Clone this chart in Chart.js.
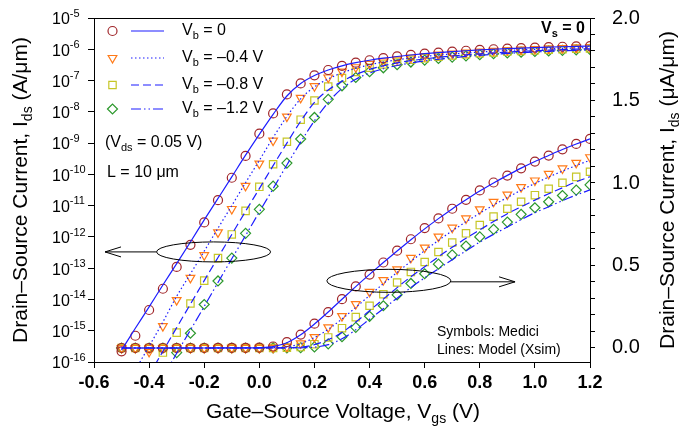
<!DOCTYPE html>
<html>
<head>
<meta charset="utf-8">
<script src="https://cdn.jsdelivr.net/npm/chart.js@4.4.0/dist/chart.umd.min.js"></script>
<style>
  html, body { margin: 0; padding: 0; background: #fff; }
</style>
</head>
<body>
<canvas id="chart" width="688" height="432"></canvas>
<script>
// Gate-source voltage grid (V)
const vgs = [-0.5, -0.45, -0.4, -0.35, -0.3, -0.25, -0.2, -0.15, -0.1, -0.05,
    0, 0.05, 0.1, 0.15, 0.2, 0.25, 0.3, 0.35, 0.4, 0.45, 0.5, 0.55, 0.6, 0.65,
    0.7, 0.75, 0.8, 0.85, 0.9, 0.95, 1.0, 1.05, 1.1, 1.15, 1.2];

// Medici symbols, Ids in A/um (0 = below the plotted range)
const medici0 = [2.2e-16, 6.9e-16, 4.6e-15, 2.2e-14, 1.1e-13, 5.6e-13, 2.9e-12, 1.5e-11, 7.8e-11, 3.9e-10,
    2.0e-9, 8.9e-9, 3.6e-8, 8.1e-8, 1.47e-7, 2.17e-7, 2.96e-7, 3.73e-7, 4.45e-7, 5.18e-7, 5.90e-7, 6.59e-7,
    7.27e-7, 7.85e-7, 8.44e-7, 8.98e-7, 9.55e-7, 1.003e-6, 1.045e-6, 1.089e-6, 1.130e-6, 1.166e-6, 1.204e-6, 1.237e-6, 1.267e-6];
const medici1 = [0, 0, 2.1e-16, 1.4e-15, 9.5e-15, 4.9e-14, 2.6e-13, 1.4e-12, 7.8e-12, 4.3e-11,
    2.2e-10, 1.2e-9, 7.0e-9, 2.8e-8, 6.6e-8, 1.25e-7, 1.93e-7, 2.66e-7, 3.40e-7, 4.11e-7, 4.77e-7, 5.46e-7,
    6.08e-7, 6.75e-7, 7.29e-7, 7.85e-7, 8.40e-7, 8.86e-7, 9.30e-7, 9.75e-7, 1.015e-6, 1.055e-6, 1.088e-6, 1.122e-6, 1.156e-6];
const medici2 = [0, 0, 0, 2.0e-16, 8.7e-16, 7.4e-15, 4.0e-14, 2.1e-13, 1.2e-12, 6.8e-12,
    4.0e-11, 2.1e-10, 1.1e-9, 5.6e-9, 2.3e-8, 6.4e-8, 1.20e-7, 1.87e-7, 2.56e-7, 3.26e-7, 3.97e-7, 4.61e-7,
    5.21e-7, 5.82e-7, 6.39e-7, 6.95e-7, 7.45e-7, 7.96e-7, 8.44e-7, 8.86e-7, 9.26e-7, 9.65e-7, 1.001e-6, 1.037e-6, 1.068e-6];
const medici3 = [0, 0, 0, 0, 2.0e-16, 8.3e-16, 6.9e-15, 3.9e-14, 2.1e-13, 1.3e-12,
    7.6e-12, 4.2e-11, 2.3e-10, 1.35e-9, 6.6e-9, 2.5e-8, 6.8e-8, 1.25e-7, 1.92e-7, 2.56e-7, 3.22e-7, 3.91e-7,
    4.50e-7, 5.08e-7, 5.64e-7, 6.18e-7, 6.73e-7, 7.19e-7, 7.63e-7, 8.10e-7, 8.50e-7, 8.86e-7, 9.24e-7, 9.57e-7, 9.89e-7];

// Xsim model lines, Ids in A/um
const model0 = [2.4e-16, 1.2e-15, 5.8e-15, 2.9e-14, 1.4e-13, 6.9e-13, 3.5e-12, 1.7e-11, 8.3e-11, 4.1e-10,
    1.9e-9, 8.3e-9, 3.2e-8, 8.0e-8, 1.45e-7, 2.18e-7, 2.95e-7, 3.72e-7, 4.46e-7, 5.18e-7, 5.88e-7, 6.56e-7,
    7.22e-7, 7.84e-7, 8.43e-7, 8.98e-7, 9.51e-7, 1.0e-6, 1.046e-6, 1.09e-6, 1.13e-6, 1.167e-6, 1.203e-6, 1.236e-6, 1.267e-6];
const model1 = [1.0e-17, 5.6e-17, 3.2e-16, 1.9e-15, 1.26e-14, 6.6e-14, 3.5e-13, 1.9e-12, 1.0e-11, 5.4e-11,
    2.8e-10, 1.5e-9, 7.1e-9, 2.6e-8, 6.3e-8, 1.13e-7, 1.76e-7, 2.46e-7, 3.18e-7, 3.90e-7, 4.58e-7, 5.25e-7,
    5.90e-7, 6.52e-7, 7.10e-7, 7.65e-7, 8.17e-7, 8.66e-7, 9.12e-7, 9.56e-7, 9.97e-7, 1.036e-6, 1.072e-6, 1.106e-6, 1.138e-6];
const model2 = [2e-18, 1e-17, 4.0e-17, 2.2e-16, 1.26e-15, 7.1e-15, 4.0e-14, 2.2e-13, 1.2e-12, 6.6e-12,
    3.5e-11, 1.9e-10, 1.0e-9, 5.0e-9, 2.0e-8, 5.0e-8, 9.4e-8, 1.57e-7, 2.26e-7, 2.96e-7, 3.66e-7, 4.32e-7,
    4.92e-7, 5.53e-7, 6.10e-7, 6.65e-7, 7.16e-7, 7.66e-7, 8.14e-7, 8.56e-7, 8.96e-7, 9.35e-7, 9.71e-7, 1.007e-6, 1.038e-6];
const model3 = [1e-19, 1e-18, 6e-18, 3.2e-17, 1.9e-16, 1.05e-15, 6.0e-15, 3.5e-14, 2.0e-13, 1.1e-12,
    6.3e-12, 3.5e-11, 2.0e-10, 1.07e-9, 5.2e-9, 2.0e-8, 5.6e-8, 1.10e-7, 1.74e-7, 2.38e-7, 3.02e-7, 3.66e-7,
    4.25e-7, 4.80e-7, 5.35e-7, 5.89e-7, 6.42e-7, 6.89e-7, 7.33e-7, 7.78e-7, 8.20e-7, 8.56e-7, 8.93e-7, 9.27e-7, 9.58e-7];

// axis ticks
const xTicks = [-0.6, -0.4, -0.2, 0.0, 0.2, 0.4, 0.6, 0.8, 1.0, 1.2];
const logExps = [-16, -15, -14, -13, -12, -11, -10, -9, -8, -7, -6, -5];
const linTicks = [0.0, 0.5, 1.0, 1.5, 2.0];

const legendLabels = ['0', '\u20130.4 V', '\u20130.8 V', '\u20131.2 V'];

const FONT = '"Liberation Sans", Arial, Helvetica, sans-serif';
const BLUE = '#1c1cff';
const symColors = ['#a0262a', '#ff7a18', '#c6c626', '#2c982c'];
const symShapes = ['circle', 'triangle', 'rect', 'rectRot'];
const symRot = [0, 180, 0, 0];
const symRadius = [4.5, 5, 5.2, 5];
const lineDash = [[], [1.5, 2.5], [8, 4], [10, 3, 1.5, 3, 1.5, 3]];

const medici = [medici0, medici1, medici2, medici3];
const model = [model0, model1, model2, model3];

const datasets = [];
model.forEach((m, i) => {
    const base = {
        type: 'line', borderColor: BLUE, borderWidth: 1.2, borderDash: lineDash[i],
        pointRadius: 0, cubicInterpolationMode: 'monotone', fill: false
    };
    datasets.push(Object.assign({}, base, { yAxisID: 'yLog', data: vgs.map((v, k) => ({ x: v, y: m[k] })) }));
    datasets.push(Object.assign({}, base, { yAxisID: 'yLin', data: vgs.map((v, k) => ({ x: v, y: m[k] * 1e6 })) }));
});
medici.forEach((s, i) => {
    const base = {
        type: 'line', showLine: false, pointStyle: symShapes[i], pointRotation: symRot[i],
        pointRadius: symRadius[i], pointBorderColor: symColors[i], pointBackgroundColor: 'rgba(0,0,0,0)',
        pointBorderWidth: 1.2
    };
    datasets.push(Object.assign({}, base, { yAxisID: 'yLog', data: vgs.map((v, k) => ({ x: v, y: s[k] > 0 ? s[k] : null })) }));
    datasets.push(Object.assign({}, base, { yAxisID: 'yLin', data: vgs.map((v, k) => ({ x: v, y: s[k] * 1e6 })) }));
});

function font(size, bold) { return (bold ? 'bold ' : '') + size + 'px ' + FONT; }

// draws text runs; part = [text, 'sub' | 'sup' | undefined]
function drawRich(ctx, parts, x, y, size, align, bold) {
    const runs = parts.map(p => {
        const kind = p[1] || '';
        const s = kind ? Math.round(size * 0.68) : size;
        ctx.font = font(s, bold);
        return { t: p[0], s: s, dy: kind === 'sub' ? size * 0.32 : kind === 'sup' ? -size * 0.4 : 0, w: ctx.measureText(p[0]).width };
    });
    const total = runs.reduce((a, r) => a + r.w, 0);
    let cx = align === 'center' ? x - total / 2 : align === 'right' ? x - total : x;
    ctx.textAlign = 'left';
    ctx.textBaseline = 'middle';
    runs.forEach(r => {
        ctx.font = font(r.s, bold);
        ctx.fillText(r.t, cx, y + r.dy);
        cx += r.w;
    });
}

function arrow(ctx, x0, x1, y) {
    const d = x1 > x0 ? -1 : 1;
    ctx.beginPath();
    ctx.moveTo(x0, y); ctx.lineTo(x1, y);
    ctx.moveTo(x1 + d * 16, y - 5); ctx.lineTo(x1, y); ctx.lineTo(x1 + d * 16, y + 5);
    ctx.stroke();
}

const decorations = {
    id: 'decorations',
    afterDraw(chart) {
        const ctx = chart.ctx;
        const a = chart.chartArea;
        const xs = chart.scales.x, yl = chart.scales.yLog, yr = chart.scales.yLin;
        ctx.save();
        ctx.fillStyle = '#000';
        ctx.strokeStyle = '#000';
        ctx.lineWidth = 1;
        ctx.strokeRect(a.left + 0.5, a.top + 0.5, a.right - a.left, a.bottom - a.top);

        // tick labels
        xTicks.forEach(v => drawRich(ctx, [[v.toFixed(1)]], xs.getPixelForValue(v), 383, 18, 'center', true));
        logExps.forEach(e => drawRich(ctx, [['10'], [String(e), 'sup']], 52, yl.getPixelForValue(Math.pow(10, e)) + 2, 16, 'left'));
        linTicks.forEach(v => drawRich(ctx, [[v.toFixed(1)]], 612, yr.getPixelForValue(v), 20, 'left'));

        // axis titles
        drawRich(ctx, [['Gate\u2013Source Voltage, V'], ['gs', 'sub'], [' (V)']], 343, 412, 21, 'center');
        ctx.save();
        ctx.translate(21, (a.top + a.bottom) / 2);
        ctx.rotate(-Math.PI / 2);
        drawRich(ctx, [['Drain\u2013Source Current, I'], ['ds', 'sub'], [' (A/\u03bcm)']], 0, 0, 21, 'center');
        ctx.restore();
        ctx.save();
        ctx.translate(668, (a.top + a.bottom) / 2);
        ctx.rotate(-Math.PI / 2);
        drawRich(ctx, [['Drain\u2013Source Current, I'], ['ds', 'sub'], [' (\u03bcA/\u03bcm)']], 0, 0, 21, 'center');
        ctx.restore();

        // legend
        const rows = [31, 58, 85, 109];
        rows.forEach((y, i) => {
            ctx.save();
            ctx.strokeStyle = BLUE;
            ctx.lineWidth = 1.2;
            ctx.setLineDash(lineDash[i]);
            ctx.beginPath(); ctx.moveTo(131, y); ctx.lineTo(164, y); ctx.stroke();
            ctx.restore();
            ctx.save();
            ctx.strokeStyle = symColors[i];
            ctx.fillStyle = 'rgba(0,0,0,0)';
            ctx.lineWidth = 1.2;
            Chart.helpers.drawPoint(ctx, { pointStyle: symShapes[i], rotation: symRot[i], radius: symRadius[i], borderWidth: 1.2 }, 112.5, y);
            ctx.restore();
            drawRich(ctx, [['V'], ['b', 'sub'], [' = ' + legendLabels[i]]], 182, y, 16, 'left');
        });

        drawRich(ctx, [['(V'], ['ds', 'sub'], [' = 0.05 V)']], 105, 143, 16, 'left');
        drawRich(ctx, [['L = 10 \u03bcm']], 107, 173, 16, 'left');
        drawRich(ctx, [['V'], ['s', 'sub'], [' = 0']], 585, 29, 16, 'right', true);
        drawRich(ctx, [['Symbols: Medici']], 437, 332, 14, 'left');
        drawRich(ctx, [['Lines: Model (Xsim)']], 437, 350, 14, 'left');

        // ellipses marking which axis each family uses
        ctx.lineWidth = 1;
        const lx = xs.getPixelForValue(-0.166), ly = yl.getPixelForValue(Math.pow(10, -12.48));
        ctx.beginPath(); ctx.ellipse(lx, ly, 57, 10, 0, 0, Math.PI * 2); ctx.stroke();
        arrow(ctx, lx - 57, xs.getPixelForValue(-0.56), ly);
        const rx = xs.getPixelForValue(0.47), ry = yr.getPixelForValue(0.407);
        ctx.beginPath(); ctx.ellipse(rx, ry, 62, 11.5, 0, 0, Math.PI * 2); ctx.stroke();
        arrow(ctx, rx + 62, xs.getPixelForValue(0.928), ry + 1);
        ctx.restore();
    }
};

new Chart(document.getElementById('chart'), {
    type: 'line',
    data: { datasets: datasets },
    options: {
        responsive: false,
        devicePixelRatio: 1,
        animation: false,
        layout: { padding: { top: 18, left: 0, right: 0, bottom: 0 } },
        plugins: { legend: { display: false }, tooltip: { enabled: false } },
        scales: {
            x: {
                type: 'linear', min: -0.6, max: 1.2,
                ticks: { stepSize: 0.2, display: false },
                grid: { drawOnChartArea: false, tickLength: 6, color: '#000' },
                border: { display: false },
                afterFit: s => { s.height = 70; }
            },
            yLog: {
                type: 'logarithmic', position: 'left', min: 1e-16, max: 1e-5,
                ticks: { display: false },
                afterBuildTicks: s => { s.ticks = logExps.map(e => ({ value: Math.pow(10, e) })); },
                grid: { drawOnChartArea: false, tickLength: 6, color: '#000' },
                border: { display: false },
                afterFit: s => { s.width = 94; }
            },
            yLin: {
                type: 'linear', position: 'right', min: -0.085, max: 2.0,
                ticks: { stepSize: 0.1, display: false, includeBounds: false },
                grid: { drawOnChartArea: false, tickLength: 5, color: '#000' },
                border: { display: false },
                afterFit: s => { s.width = 98; }
            }
        }
    },
    plugins: [decorations]
});
</script>
</body>
</html>
